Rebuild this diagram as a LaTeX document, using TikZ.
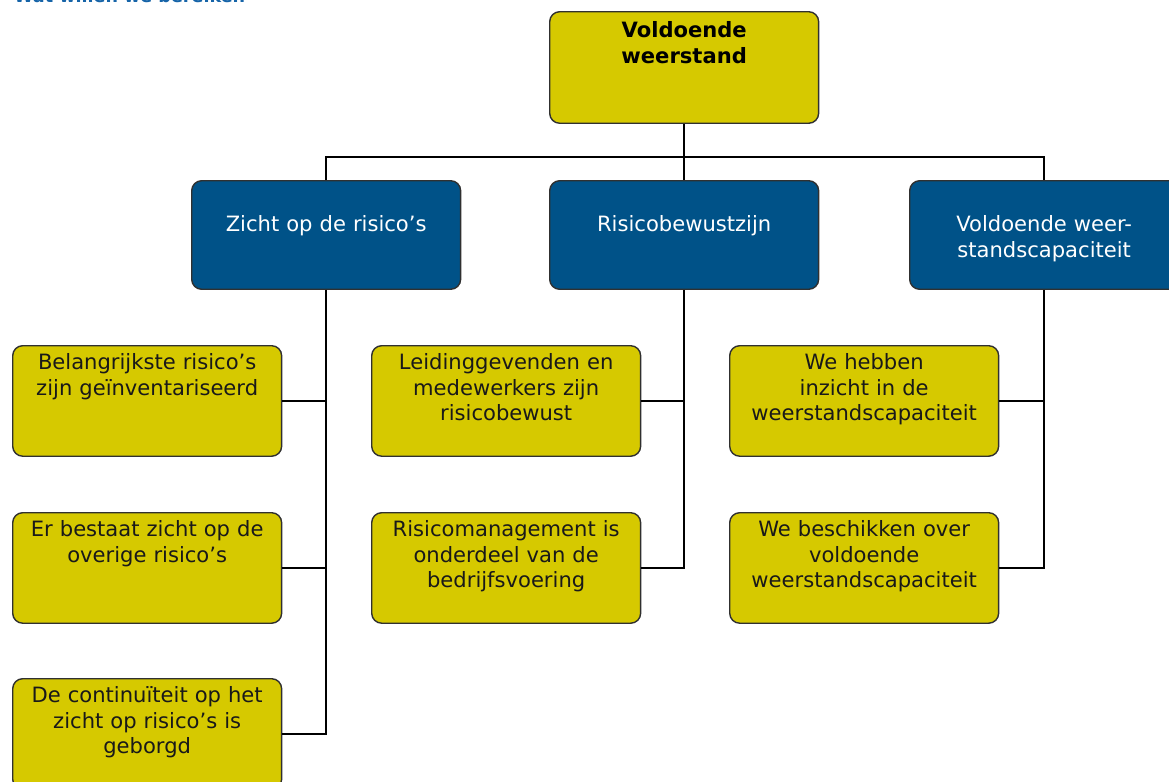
\documentclass[tikz,border=0pt]{standalone}
\usepackage{fontspec}
\setmainfont{DejaVu Sans}

\definecolor{goalyellow}{RGB}{214,201,0}
\definecolor{themeblue}{RGB}{0,82,136}
\definecolor{edgegray}{RGB}{48,48,48}
\definecolor{headblue}{RGB}{22,100,168}

\tikzset{
	box/.style={draw=edgegray, line width=0.8pt, rounded corners=0.2cm,
		anchor=north west, text width=5.2cm, inner xsep=0.09cm, inner ysep=0pt,
		align=center, font=\fontsize{12}{14.6}\selectfont},
	goalbox/.style={box, fill=goalyellow, text=black!90, text height=13.6pt, text depth=49.3pt},
	themebox/.style={box, fill=themeblue, text=white, text height=28.9pt, text depth=32.9pt},
	topbox/.style={box, fill=goalyellow, font=\fontsize{12}{14.6}\selectfont\bfseries,
		text height=14.7pt, text depth=48.8pt},
	link/.style={line width=0.8pt, black},
}

\begin{document}
\begin{tikzpicture}[x=0.02cm, y=-0.02cm]

% frame %{{{1

	\useasboundingbox (0,0) rectangle (1169,781);

	\node[anchor=base west, text=headblue, font=\fontsize{10}{12}\selectfont\bfseries]
		(kop) at (8,3) {Wat willen we bereiken};

% boxes %{{{1

	\node[topbox] (top) at (549,11) {Voldoende\\weerstand};

	\node[themebox] (zicht) at (191,180) {Zicht op de risico’s};
	\node[themebox] (bewust) at (549,180) {Risicobewustzijn};
	\node[themebox] (capac) at (909,180) {Voldoende weer-\\standscapaciteit};

	\node[goalbox] (zicht1) at (12,345) {Belangrijkste risico’s\\zijn geïnventariseerd};
	\node[goalbox] (zicht2) at (12,512) {Er bestaat zicht op de\\overige risico’s};
	\node[goalbox] (zicht3) at (12,678) {De continuïteit op het\\zicht op risico’s is\\geborgd};

	\node[goalbox] (bewust1) at (371,345) {Leidinggevenden en\\medewerkers zijn\\risicobewust};
	\node[goalbox] (bewust2) at (371,512) {Risicomanagement is\\onderdeel van de\\bedrijfsvoering};

	\node[goalbox] (capac1) at (729,345) {We hebben\\inzicht in de\\weerstandscapaciteit};
	\node[goalbox] (capac2) at (729,512) {We beschikken over\\voldoende\\weerstandscapaciteit};

% lines %{{{1

	\coordinate (bus) at (684,157);

	\draw[link] (top.south) -- (bewust.north);
	\draw[link] (zicht.north) -- (zicht.north |- bus) -- (capac.north |- bus) -- (capac.north);

	\draw[link] (zicht.south) |- (zicht3.east);
	\draw[link] (zicht1.east) -- (zicht1.east -| zicht.south);
	\draw[link] (zicht2.east) -- (zicht2.east -| zicht.south);

	\draw[link] (bewust.south) |- (bewust2.east);
	\draw[link] (bewust1.east) -- (bewust1.east -| bewust.south);

	\draw[link] (capac.south) |- (capac2.east);
	\draw[link] (capac1.east) -- (capac1.east -| capac.south);

% closing %{{{1

\end{tikzpicture}
\end{document}
